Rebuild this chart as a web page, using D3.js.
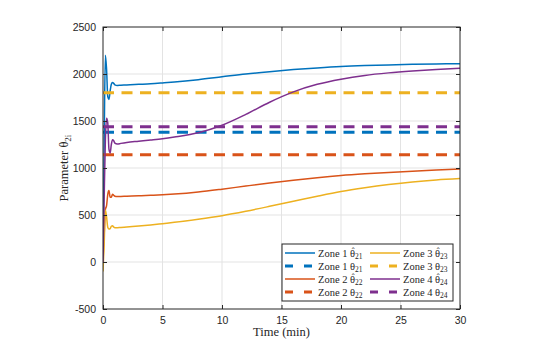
<!DOCTYPE html>
<html>
<head>
<meta charset="utf-8">
<script src="https://cdn.jsdelivr.net/npm/d3@7"></script>
<style>
  html, body { margin: 0; padding: 0; background: #fff; }
  #chart { width: 545px; height: 339px; }
  .serif { font-family: "Liberation Serif", "DejaVu Serif", serif; fill: #262626; }
  .axis text { font-family: "Liberation Sans", Arial, sans-serif; font-size: 10.5px; fill: #262626; }
</style>
</head>
<body>
<div id="chart"></div>
<script>
// time axis (min), shared by all estimate series
const timeMin = [0, 0.1, 0.2, 0.3, 0.4, 0.5, 0.6, 0.7, 0.8, 0.9, 1.0, 1.2, 1.5, 2, 3, 4, 5, 6, 8, 10, 12, 14, 16, 18, 20, 22, 24, 26, 28, 30];

// estimated parameters
const zone1Est = [0, 1300, 2200, 2050, 1760, 1730, 1820, 1890, 1910, 1900, 1885, 1878, 1880, 1884, 1890, 1896, 1905, 1915, 1940, 1970, 2000, 2025, 2047, 2065, 2080, 2090, 2097, 2103, 2107, 2110];
const zone2Est = [0, 300, 560, 600, 720, 760, 690, 690, 720, 710, 700, 697, 698, 700, 704, 709, 715, 723, 745, 775, 808, 840, 870, 897, 920, 938, 953, 966, 978, 990];
const zone3Est = [-100, 200, 550, 480, 370, 350, 355, 380, 385, 372, 365, 365, 368, 372, 382, 394, 408, 422, 455, 493, 540, 592, 646, 700, 750, 790, 824, 852, 873, 888];
const zone4Est = [0, 700, 1300, 1530, 1480, 1200, 1160, 1250, 1300, 1290, 1265, 1255, 1262, 1272, 1285, 1298, 1312, 1330, 1375, 1455, 1570, 1700, 1810, 1890, 1945, 1985, 2012, 2032, 2048, 2060];

// true parameters
const trueValues = [1380, 1140, 1800, 1440];

const zoneNames = ["Zone 1", "Zone 2", "Zone 3", "Zone 4"];
const subscripts = ["21", "22", "23", "24"];
const colors = ["#0072BD", "#D95319", "#EDB120", "#7E2F8E"];

const xTicks = [0, 5, 10, 15, 20, 25, 30];
const yTicks = [-500, 0, 500, 1000, 1500, 2000, 2500];

//size
const width = 545, height = 339;
const margin = { top: 27, right: 85, bottom: 30, left: 103 };
const innerWidth = width - margin.left - margin.right;
const innerHeight = height - margin.top - margin.bottom;

//scale
const xScale = d3.scaleLinear().domain([0, 30]).range([0, innerWidth]);
const yScale = d3.scaleLinear().domain([-500, 2500]).range([innerHeight, 0]);

const svg = d3.select("#chart").append("svg")
  .attr("width", width).attr("height", height);
const g = svg.append("g").attr("transform", `translate(${margin.left},${margin.top})`);

//grid
g.append("g").selectAll("line").data(xTicks.slice(1, -1)).join("line")
  .attr("x1", xScale).attr("x2", xScale).attr("y1", 0).attr("y2", innerHeight)
  .attr("stroke", "#e3e3e3").attr("stroke-width", 1);
g.append("g").selectAll("line").data(yTicks.slice(1, -1)).join("line")
  .attr("y1", yScale).attr("y2", yScale).attr("x1", 0).attr("x2", innerWidth)
  .attr("stroke", "#e3e3e3").attr("stroke-width", 1);

//marks
const estSeries = [zone1Est, zone2Est, zone3Est, zone4Est];
const line = d3.line()
  .x((d, i) => xScale(timeMin[i]))
  .y((d) => yScale(d))
  .curve(d3.curveMonotoneX);

svg.append("clipPath").attr("id", "clip")
  .append("rect").attr("width", innerWidth).attr("height", innerHeight);

const marks = g.append("g").attr("clip-path", "url(#clip)");
// drawn in MATLAB order: est1, true1, est2, true2 ...
zoneNames.forEach((z, k) => {
  marks.append("path").datum(estSeries[k])
    .attr("d", line).attr("fill", "none")
    .attr("stroke", colors[k]).attr("stroke-width", 1.5);
  marks.append("line")
    .attr("x1", xScale(0)).attr("x2", xScale(30))
    .attr("y1", yScale(trueValues[k])).attr("y2", yScale(trueValues[k]))
    .attr("stroke", colors[k]).attr("stroke-width", 3)
    .attr("stroke-dasharray", "11,7.5");
});

//axes
const axisColor = "#262626";
function styleAxis(sel) {
  sel.attr("class", "axis").attr("font-family", null).attr("font-size", null);
  sel.select(".domain").remove();
  sel.selectAll(".tick line").attr("stroke", axisColor);
}
const fmt = d3.format("d");
g.append("g").attr("transform", `translate(0,${innerHeight})`)
  .call(d3.axisBottom(xScale).tickValues(xTicks).tickSize(-4).tickPadding(8).tickFormat(fmt))
  .call(styleAxis);
g.append("g")
  .call(d3.axisTop(xScale).tickValues(xTicks).tickSize(-4).tickFormat(""))
  .call(styleAxis);
g.append("g")
  .call(d3.axisLeft(yScale).tickValues(yTicks).tickSize(-4).tickPadding(7)
    .tickFormat((d) => String(d)))
  .call(styleAxis);
g.append("g").attr("transform", `translate(${innerWidth},0)`)
  .call(d3.axisRight(yScale).tickValues(yTicks).tickSize(-4).tickFormat(""))
  .call(styleAxis);

g.append("rect")
  .attr("width", innerWidth).attr("height", innerHeight)
  .attr("fill", "none").attr("stroke", axisColor).attr("stroke-width", 1);

//labels
svg.append("text").attr("class", "serif")
  .attr("x", margin.left + innerWidth / 2).attr("y", 336)
  .attr("text-anchor", "middle").attr("font-size", 12.5)
  .text("Time (min)");

const yl = svg.append("text").attr("class", "serif")
  .attr("transform", `translate(68,${margin.top + innerHeight / 2}) rotate(-90)`)
  .attr("text-anchor", "middle").attr("font-size", 12.5);
yl.append("tspan").text("Parameter θ");
yl.append("tspan").attr("font-size", 9).attr("dy", 3).text("2i");

//legend
const legend = svg.append("g").attr("transform", "translate(282,244)");
legend.append("rect").attr("width", 171).attr("height", 57)
  .attr("fill", "#fff").attr("stroke", axisColor).attr("stroke-width", 1);

const items = [];
zoneNames.forEach((z, k) => {
  items.push({ k, est: true });
  items.push({ k, est: false });
});
items.forEach((d, i) => {
  const col = Math.floor(i / 4), row = i % 4;
  const item = legend.append("g")
    .attr("transform", `translate(${3 + col * 85},${9 + row * 13})`);
  item.append("line").attr("x1", 0).attr("x2", 30)
    .attr("stroke", colors[d.k])
    .attr("stroke-width", d.est ? 1.5 : 3)
    .attr("stroke-dasharray", d.est ? null : "8,11");
  const t = item.append("text").attr("class", "serif")
    .attr("x", 33).attr("y", 3.5).attr("font-size", 10.5);
  t.append("tspan").text(zoneNames[d.k] + " ");
  t.append("tspan").text("θ");
  t.append("tspan").attr("font-size", 7.5).attr("dy", 2.5).text(subscripts[d.k]);
  if (d.est) {
    // hat over theta
    const n = (zoneNames[d.k] + " ").length;
    const x0 = t.node().getStartPositionOfChar(n).x;
    const x1 = t.node().getEndPositionOfChar(n).x;
    item.append("text").attr("class", "serif")
      .attr("x", (x0 + x1) / 2 + 0.5).attr("y", 0.5)
      .attr("text-anchor", "middle").attr("font-size", 8.5)
      .text("ˆ");
  }
});
</script>
</body>
</html>
